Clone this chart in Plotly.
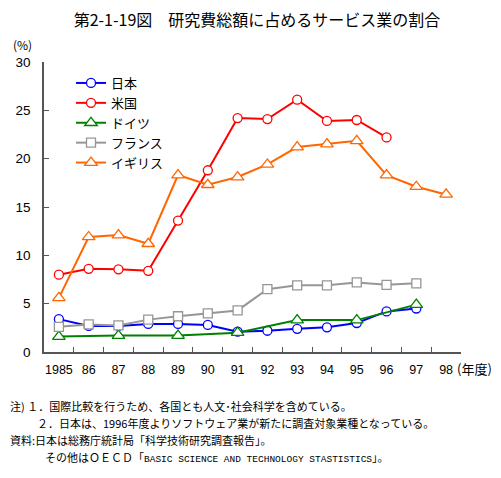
import plotly.graph_objects as go

# ---------------- data ----------------
years = ["1985", "86", "87", "88", "89", "90", "91", "92", "93", "94", "95", "96", "97", "98"]

japan_x = ["1985", "86", "87", "88", "89", "90", "91", "92", "93", "94", "95", "96", "97"]
japan = [3.4, 2.7, 2.7, 2.9, 2.9, 2.8, 2.1, 2.2, 2.4, 2.55, 3.0, 4.2, 4.5]

usa_x = ["1985", "86", "87", "88", "89", "90", "91", "92", "93", "94", "95", "96"]
usa = [8.0, 8.6, 8.55, 8.4, 13.6, 18.8, 24.2, 24.1, 26.1, 23.9, 24.0, 22.2]

germany_x = ["1985", "87", "89", "91", "93", "95", "97"]
germany = [1.6, 1.7, 1.7, 2.0, 3.3, 3.3, 4.9]

france_x = ["1985", "86", "87", "88", "89", "90", "91", "92", "93", "94", "95", "96", "97"]
france = [2.6, 2.85, 2.75, 3.35, 3.7, 4.0, 4.3, 6.5, 6.9, 6.9, 7.2, 6.95, 7.1]

uk_x = ["1985", "86", "87", "88", "89", "90", "91", "92", "93", "94", "95", "96", "97", "98"]
uk = [5.6, 11.9, 12.1, 11.2, 18.3, 17.3, 18.1, 19.4, 21.2, 21.5, 21.85, 18.3, 17.1, 16.3]

y_ticks = [0, 5, 10, 15, 20, 25, 30]

title_text = "第2-1-19図　研究費総額に占めるサービス業の割合"
notes = [
    "注) １．国際比較を行うため、各国とも人文･社会科学を含めている。",
    "２．日本は、1996年度よりソフトウェア業が新たに調査対象業種となっている。",
    "資料:日本は総務庁統計局「科学技術研究調査報告」。",
    "その他はＯＥＣＤ「<span style=\"font-family:'Liberation Mono'; font-size:9.5px\">BASIC SCIENCE AND TECHNOLOGY STASTISTICS</span>」。",
]

# ---------------- layout geometry ----------------
# the page body has an 8px default margin; the figure is sized so that it
# fills the 501x478 window exactly, and positions below are window pixels.
OFF = 8
WIN_W, WIN_H = 501, 478
W, H = WIN_W - OFF, WIN_H - OFF
AX_L, AX_R, AX_T, AX_B = 44, 461, 62, 352          # window pixels
L, R, T, B = AX_L - OFF, WIN_W - AX_R, AX_T - OFF, WIN_H - AX_B
PW, PH = AX_R - AX_L, AX_B - AX_T

def px(x):
    return (x - AX_L) / PW

def py(y):
    return (AX_B - y) / PH

CJK = "Noto Sans CJK JP"

fig = go.Figure()

series = [
    ("日本", japan_x, japan, "#0000FF", "circle", 9),
    ("米国", usa_x, usa, "#FF0000", "circle", 9),
    ("ドイツ", germany_x, germany, "#008000", "triangle-up", 11),
    ("フランス", france_x, france, "#969696", "square", 9),
    ("イギリス", uk_x, uk, "#FF6600", "triangle-up", 11),
]

for name, xs, ys, col, sym, sz in series:
    fig.add_trace(go.Scatter(
        x=xs, y=ys, name=name, mode="lines+markers",
        line=dict(color=col, width=2),
        marker=dict(symbol=sym, size=sz, color="white",
                    line=dict(color=col, width=1.3)),
    ))

fig.update_layout(
    width=W, height=H,
    margin=dict(l=L, r=R, t=T, b=B, autoexpand=False),
    paper_bgcolor="white", plot_bgcolor="white",
    font=dict(family=CJK, color="black"),
    title=dict(text=title_text, x=(257 - OFF) / W, xanchor="center", xref="container",
               y=1 - (20 - OFF) / H, yanchor="middle", yref="container",
               font=dict(family=CJK, size=16, color="black")),
    showlegend=True,
    legend=dict(x=px(71), y=py(68), xanchor="left", yanchor="top",
                bgcolor="rgba(0,0,0,0)", font=dict(family=CJK, size=13),
                tracegroupgap=0),
    xaxis=dict(type="category", categoryorder="array", categoryarray=years,
               range=[-0.5, 13.5], tickson="boundaries", ticks="inside",
               ticklen=5, tickcolor="#555555", showline=True,
               linecolor="#555555", linewidth=1.5, showgrid=False,
               zeroline=False, ticklabelstandoff=5, tickangle=0,
               automargin=False,
               tickfont=dict(family="Liberation Sans", size=12.5)),
    yaxis=dict(range=[0, 30], tickvals=y_ticks, ticks="inside", ticklen=5,
               tickcolor="#555555", showline=True, linecolor="#555555",
               linewidth=1.5, showgrid=False, zeroline=False,
               ticklabelstandoff=9, automargin=False,
               tickfont=dict(family="Liberation Sans", size=13.5)),
)

fig.add_annotation(text="(%)", xref="paper", yref="paper", x=px(22), y=py(44),
                   xanchor="center", yanchor="middle", showarrow=False,
                   font=dict(family=CJK, size=12))
fig.add_annotation(text="(年度)", xref="paper", yref="paper", x=px(455), y=py(368),
                   xanchor="left", yanchor="middle", showarrow=False,
                   font=dict(family=CJK, size=13))

note_pos = [(8, 406), (35, 423), (8, 440), (43, 457)]
for txt, (nx, ny) in zip(notes, note_pos):
    fig.add_annotation(text=txt, xref="paper", yref="paper", x=px(nx), y=py(ny),
                       xanchor="left", yanchor="middle", showarrow=False,
                       align="left", font=dict(family=CJK, size=11))

fig.write_html("out.html")
